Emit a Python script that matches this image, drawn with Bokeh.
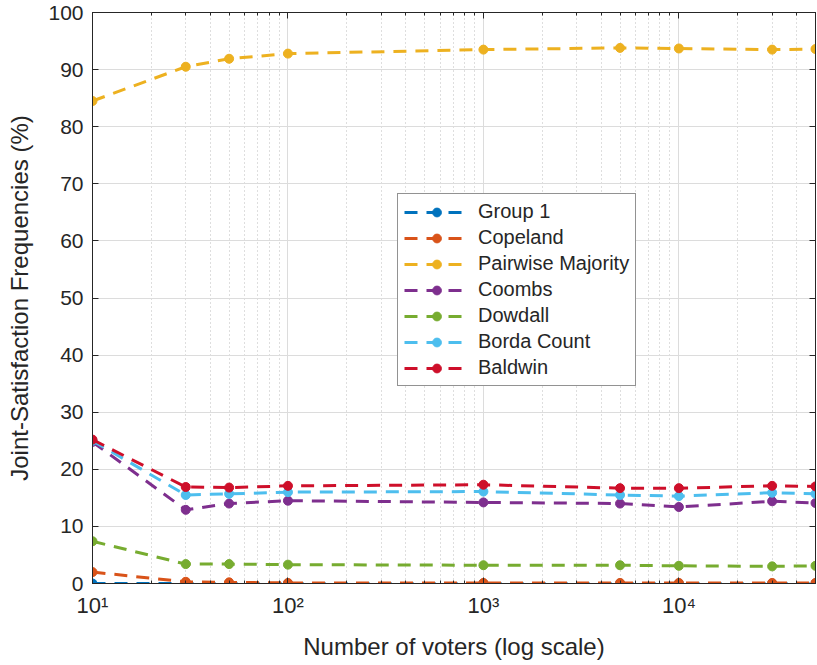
from bokeh.plotting import figure
from bokeh.models import (LogAxis, LinearAxis, Legend, LegendItem, Range1d,
                          CustomJSTickFormatter, FixedTicker, LogTicker)
from bokeh.embed import file_html
from bokeh.resources import INLINE

voters = [10, 30, 50, 100, 1000, 5000, 10000, 30000, 50000]
group1 = [0, 0, 0, 0, 0, 0, 0, 0, 0]
copeland = [2.0, 0.3, 0.2, 0.1, 0.1, 0.1, 0.1, 0.1, 0.1]
pairwise = [84.5, 90.5, 91.9, 92.8, 93.5, 93.8, 93.7, 93.5, 93.6]
coombs = [24.8, 12.9, 14.0, 14.5, 14.2, 14.0, 13.4, 14.4, 14.1]
dowdall = [7.4, 3.4, 3.4, 3.3, 3.2, 3.2, 3.1, 3.0, 3.1]
borda = [25.0, 15.5, 15.7, 16.0, 16.1, 15.5, 15.3, 15.9, 15.7]
baldwin = [25.2, 16.9, 16.8, 17.1, 17.3, 16.7, 16.7, 17.1, 17.0]

series_names = ["Group 1", "Copeland", "Pairwise Majority", "Coombs",
                "Dowdall", "Borda Count", "Baldwin"]
series_values = [group1, copeland, pairwise, coombs, dowdall, borda, baldwin]
colors = ["#0072BD", "#D95319", "#EDB120", "#7E2F8E", "#77AC30", "#4DBEEE", "#CE0F2A"]

y_ticks = [0, 10, 20, 30, 40, 50, 60, 70, 80, 90, 100]
x_ticks = [10, 100, 1000, 10000]

FONT = "Liberation Sans"

p = figure(width=817, height=665, x_axis_type="log",
           x_range=Range1d(10, 50000), y_range=Range1d(0, 100),
           output_backend="svg", toolbar_location=None,
           x_axis_label="Number of voters (log scale)",
           y_axis_label="Joint-Satisfaction Frequencies (%)",
           min_border_left=92, min_border_right=2, min_border_top=12,
           min_border_bottom=82, border_fill_color="white")

p.outline_line_color = "#262626"
p.outline_line_width = 1

fmt = CustomJSTickFormatter(code="""
const sup = {'0':'\u2070','1':'\u00b9','2':'\u00b2','3':'\u00b3','4':'\u2074','5':'\u2075','6':'\u2076','7':'\u2077','8':'\u2078','9':'\u2079'};
const e = Math.round(Math.log10(tick));
return '10' + String(e).split('').map(c => sup[c]).join('');
""")

xa = p.xaxis[0]
xa.ticker = LogTicker(num_minor_ticks=10, desired_num_ticks=4)
xa.formatter = fmt
ya = p.yaxis[0]
ya.ticker = FixedTicker(ticks=y_ticks)

for ax in (xa, ya):
    ax.axis_line_color = "#262626"
    ax.major_tick_in = 6
    ax.major_tick_out = 0
    ax.minor_tick_in = 3
    ax.minor_tick_out = 0
    ax.major_tick_line_color = "#262626"
    ax.minor_tick_line_color = "#262626"
    ax.major_label_text_font = FONT
    ax.major_label_text_font_size = "21px"
    ax.major_label_text_color = "#262626"
    ax.axis_label_text_font = FONT
    ax.axis_label_text_font_size = "24px"
    ax.axis_label_text_font_style = "normal"
    ax.axis_label_text_color = "#262626"
ya.minor_tick_line_color = None
xa.major_label_text_font_size = "22px"
xa.major_label_standoff = 9
ya.major_label_standoff = 9
ya.axis_label_standoff = 12
xa.axis_label_standoff = 12

top = LogAxis(ticker=LogTicker(num_minor_ticks=10, desired_num_ticks=4),
              major_label_text_font_size="1px", major_label_text_color=None,
              major_tick_in=6, major_tick_out=0,
              minor_tick_in=3, minor_tick_out=0, axis_line_color="#262626",
              major_tick_line_color="#262626", minor_tick_line_color="#262626",
              major_label_standoff=0)
right = LinearAxis(ticker=FixedTicker(ticks=y_ticks),
                   major_label_text_font_size="1px", major_label_text_color=None,
                   major_tick_in=6, major_tick_out=0,
                   minor_tick_line_color=None, axis_line_color="#262626",
                   major_tick_line_color="#262626", major_label_standoff=0)
p.add_layout(top, "above")
p.add_layout(right, "right")

p.xgrid.grid_line_color = "#dcdcdc"
p.xgrid.minor_grid_line_color = "#bdbdbd"
p.xgrid.minor_grid_line_dash = "1 3"
p.xgrid.ticker = xa.ticker
p.ygrid.grid_line_color = "#dcdcdc"
p.ygrid.ticker = ya.ticker

items = []
for name, vals, c in zip(series_names, series_values, colors):
    l = p.line(voters, vals, line_color=c, line_width=3, line_dash="13 9")
    s = p.scatter(voters, vals, marker="circle", size=9, fill_color=c, line_color=c)
    items.append(LegendItem(label=name, renderers=[l, s]))

legend = Legend(items=items, location=(305, 197), border_line_color="#262626",
                border_line_width=1, label_text_font=FONT,
                label_text_font_size="20px", label_text_color="#262626",
                glyph_width=65, glyph_height=22, spacing=3, padding=6,
                margin=0, label_standoff=9, background_fill_alpha=1)
p.add_layout(legend, "center")

open("out.html", "w").write(file_html(p, INLINE))
